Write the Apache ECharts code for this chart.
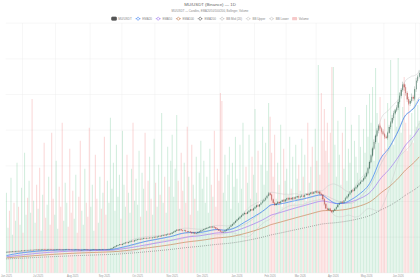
<!DOCTYPE html>
<html><head><meta charset="utf-8">
<script src="https://cdn.jsdelivr.net/npm/echarts@6/dist/echarts.min.js"></script>
<style>
html,body{margin:0;padding:0;background:#fff;}
#wrap{width:420px;height:280px;overflow:hidden;position:relative;}
#chart{width:1260px;height:840px;transform:scale(0.3333333);transform-origin:0 0;}
</style></head><body>
<div id="wrap"><div id="chart"></div></div>
<script>
// ---- data (weekday bars from 2025-06-02) ----
const firstDate = [2025, 5, 2];
const firstOpen = 57.2;
const closes = [
57.5,58.2,57.9,58.8,59.4,58.9,59.6,60.3,60.0,60.8,61.5,61.1,62.0,62.6,62.1,63.0,63.4,62.8,63.5,64.1,63.6,
64.2,63.7,64.5,65.0,64.3,63.8,64.6,65.2,64.7,64.0,63.5,64.1,64.8,65.3,64.6,64.0,63.6,64.2,64.9,65.4,64.8,64.3,63.9,
63.4,64.0,64.6,64.1,63.5,63.0,63.6,64.3,64.8,64.2,63.7,63.2,63.8,64.5,65.0,64.4,63.9,64.5,65.1,64.6,65.2,
65.0,64.6,65.3,66.0,67.2,69.0,71.5,73.8,76.0,77.5,79.0,78.2,80.5,82.6,84.0,83.1,85.5,87.8,89.0,88.1,90.2,92.0,
93.0,94.5,93.6,95.2,96.8,95.9,97.4,96.5,98.0,97.1,98.6,100.2,99.3,101.0,102.8,101.9,104.0,105.8,104.7,106.9,108.6,107.5,109.8,
112.0,114.5,117.2,120.1,118.6,121.0,119.2,117.5,118.8,116.0,114.2,115.5,113.0,110.8,112.5,109.6,111.0,113.4,115.8,117.9,
119.5,121.8,123.6,125.0,126.9,128.4,127.2,129.0,126.5,124.0,121.2,118.5,115.4,113.0,114.8,117.5,121.0,124.6,128.2,132.5,136.0,140.4,144.8,
149.0,152.6,156.8,160.5,164.2,167.0,165.3,169.8,173.5,177.0,175.2,179.6,184.0,188.5,186.2,191.0,195.8,200.4,204.2,209.5,215.0,221.8,
218.5,205.0,196.2,190.0,193.5,197.8,195.0,199.6,203.2,200.4,204.8,208.5,205.6,209.0,206.2,210.5,207.8,211.6,214.0,211.2,
213.5,216.0,213.2,217.8,220.4,218.0,221.5,224.2,222.0,225.8,227.5,224.6,226.9,221.0,218.3,206.5,192.0,180.5,176.0,179.2,173.5,170.0,
174.5,178.0,184.2,190.5,195.0,198.6,196.0,202.5,208.8,214.0,219.6,225.2,231.0,229.5,235.8,240.2,245.6,250.0,254.5,258.8,264.0,270.5,
279.0,292.5,310.0,328.4,348.0,366.5,384.0,398.5,412.0,404.5,396.0,388.2,381.0,378.5,392.0,408.4,421.0,433.5,447.2,455.0,462.8,
478.5,496.0,512.4,527.5,520.0,503.6,486.0,474.2,481.0,492.5,488.0,514.6,538.0,549.5,560.0
];
// wick lengths in units of 0.5% of price
const wickHi = [
2,1,3,1,2,2,1,3,2,1,2,1,3,2,1,2,3,1,2,1,2,
1,2,2,3,1,2,1,2,3,1,2,2,1,3,2,1,2,1,2,3,1,2,1,
2,1,3,2,1,2,2,1,3,1,2,1,2,3,1,2,1,2,2,1,3,
2,1,2,3,2,1,3,2,2,1,3,2,1,2,3,2,1,2,3,2,1,2,
3,2,1,2,2,3,1,2,3,2,1,2,3,1,2,2,3,1,2,1,3,2,1,
2,3,2,3,1,2,2,1,3,2,1,2,2,3,1,2,1,3,2,2,
2,1,2,3,1,2,3,2,1,2,2,1,3,2,1,3,2,2,1,3,2,2,3,
2,3,1,2,3,2,1,3,2,2,1,3,2,2,3,1,2,3,2,1,3,4,
3,2,3,1,2,3,2,1,2,3,2,1,3,2,2,1,3,2,1,2,
2,3,1,2,2,3,1,2,3,2,2,3,1,2,3,2,4,3,2,1,3,2,
2,3,1,2,3,2,2,1,3,2,2,3,1,2,3,2,1,2,3,2,2,3,
3,2,3,2,3,4,2,3,2,3,2,3,2,3,2,3,2,4,3,2,3,
3,4,2,3,2,3,2,3,2,4,2,3,3,2,3
];
const wickLo = [
1,2,2,1,3,1,2,2,1,3,1,2,2,1,3,2,1,3,1,2,1,
2,1,3,1,2,2,3,1,2,1,3,2,2,1,2,3,1,2,1,2,2,1,3,
1,2,2,1,3,2,1,2,1,3,2,2,1,2,1,3,2,1,2,2,1,
1,2,3,1,2,2,1,2,3,2,1,2,2,3,1,2,2,1,2,1,3,2,
2,1,2,3,1,2,2,3,1,2,3,1,2,2,1,3,2,2,1,3,1,2,2,
3,1,2,2,3,2,1,3,2,2,3,1,2,2,3,2,1,2,2,3,
1,3,2,2,1,2,2,3,2,3,2,3,2,3,2,1,2,2,3,1,2,2,1,
2,1,3,2,1,2,3,1,2,3,2,2,1,3,2,3,1,2,2,3,2,1,
2,4,3,3,2,1,3,2,2,1,2,3,2,1,2,3,2,1,2,3,
3,1,2,3,2,1,2,3,2,1,2,2,3,3,2,4,4,3,3,2,2,3,
3,2,2,3,1,2,3,2,1,2,3,2,2,3,1,2,3,2,2,1,3,2,
2,3,2,2,3,2,3,2,4,3,3,2,3,2,3,2,3,2,3,2,2,
3,2,3,2,4,3,3,2,3,2,3,2,3,2,2
];
const volumes = [
80,45,62,95,38,70,52,110,66,48,85,40,120,58,75,92,60,174,72,50,88,
64,105,42,78,130,55,68,96,48,140,74,58,112,44,86,66,150,52,90,70,46,124,60,
82,54,98,40,76,132,62,48,104,70,56,145,66,88,42,118,74,50,96,64,80,
136,58,92,70,155,84,110,62,128,76,98,54,142,88,66,118,80,60,104,150,72,94,
68,122,56,100,84,140,62,92,116,74,58,134,90,66,108,78,160,70,96,60,126,86,112,
138,76,104,158,92,64,120,82,110,70,146,96,58,128,88,74,116,62,100,132,
84,112,70,96,60,124,88,76,142,66,104,92,180,172,80,118,72,98,126,64,110,86,136,
94,70,128,84,150,62,106,90,138,74,116,98,164,80,122,68,108,146,88,130,102,170,
156,120,96,138,74,110,88,148,66,124,92,104,78,136,84,116,70,128,94,108,
82,134,96,118,72,150,90,106,126,80,144,112,208,98,180,132,164,122,150,110,140,206,
206,128,96,152,118,88,140,104,166,92,124,110,148,84,132,116,100,158,126,90,144,120,
168,136,179,150,186,112,205,160,130,176,142,118,154,124,170,138,213,150,128,164,146,
215,180,140,166,196,150,122,174,138,160,130,184,146,168,152
];
// indicator starting values read at the left edge
const emaSeed = { EMA20: 46.8, EMA50: 44.0, EMA100: 41.2, EMA200: 38.4 };
const monthNames = ['Jan','Feb','Mar','Apr','May','Jun','Jul','Aug','Sep','Oct','Nov','Dec'];

// ---- categories: weekday dates ----
const dates = [];
let t = Date.UTC(firstDate[0], firstDate[1], firstDate[2]);
while (dates.length < closes.length) {
  const dd = new Date(t);
  const wd = dd.getUTCDay();
  if (wd !== 0 && wd !== 6) dates.push(dd.toISOString().slice(0, 10));
  t += 86400000;
}

// ---- build series data ----
const ohlc = [], volData = [];
for (let i = 0; i < closes.length; i++) {
  const o = i === 0 ? firstOpen : closes[i - 1];
  const c = closes[i];
  const hi = Math.max(o, c) * (1 + wickHi[i] * 0.005);
  const lo = Math.min(o, c) * (1 - wickLo[i] * 0.005);
  ohlc.push([o, c, lo, hi]);
  volData.push({ value: volumes[i], itemStyle: { color: c >= o ? 'rgba(40,170,95,0.20)' : 'rgba(235,80,80,0.22)' } });
}
function ema(n, seed) {
  const a = 2 / (n + 1); const out = []; let e = seed;
  for (let i = 0; i < closes.length; i++) { e = a * closes[i] + (1 - a) * e; out.push(+e.toFixed(2)); }
  return out;
}
const bbMid = [], bbUp = [], bbLo = [];
for (let i = 0; i < closes.length; i++) {
  const w = closes.slice(Math.max(0, i - 19), i + 1);
  const m = w.reduce((s, v) => s + v, 0) / w.length;
  const sd = Math.sqrt(w.reduce((s, v) => s + (v - m) * (v - m), 0) / w.length);
  bbMid.push(+m.toFixed(2)); bbUp.push(+(m + 2 * sd).toFixed(2)); bbLo.push(+(m - 2 * sd).toFixed(2));
}

function isMonthStart(i) { return i === 0 || (dates[i] && dates[i - 1] && dates[i].slice(0, 7) !== dates[i - 1].slice(0, 7)); }
function isMidMonthFirst(i) {
  if (!dates[i]) return false;
  const d = +dates[i].slice(8);
  if (d < 16) return false;
  if (i === 0) return true;
  return dates[i - 1].slice(0, 7) !== dates[i].slice(0, 7) || +dates[i - 1].slice(8) < 16;
}

const lineBase = { type: 'line', showSymbol: false, symbol: 'emptyCircle', smooth: false, silent: true };
const chart = echarts.init(document.getElementById('chart'), null, { renderer: 'svg', width: 1260, height: 840 });
chart.setOption({
  animation: false,
  backgroundColor: '#ffffff',
  title: {
    text: 'MU/USDT (Binance) — 1D',
    subtext: 'MU/USDT — Candles, EMA20/50/100/200, Bollinger, Volume',
    left: 'center', top: 3, itemGap: 9,
    textStyle: { fontSize: 13, fontWeight: 'normal', color: '#666' },
    subtextStyle: { fontSize: 8.5, color: '#8a8a8a' }
  },
  legend: {
    top: 50, padding: 0, itemWidth: 15, itemHeight: 10, itemGap: 10,
    textStyle: { fontSize: 9, color: '#888' },
    data: [
      { name: 'MU/USDT', itemStyle: { color: '#555', borderColor: '#555' } },
      'EMA20', 'EMA50', 'EMA100', 'EMA200', 'BB Mid (20)', 'BB Upper', 'BB Lower',
      { name: 'Volume', itemStyle: { color: '#f6c9c9' } }
    ]
  },
  grid: { left: 0, right: 0, top: 69, bottom: 22, containLabel: false },
  xAxis: {
    type: 'category', data: dates, boundaryGap: true,
    axisLine: { show: false }, axisTick: { show: false },
    axisLabel: {
      interval: (i) => isMonthStart(i), fontSize: 8, color: '#999', margin: 8,
      formatter: (v) => monthNames[+v.slice(5, 7) - 1] + ' ' + v.slice(0, 4)
    },
    splitLine: { show: true, interval: (i) => isMidMonthFirst(i - 1), lineStyle: { color: '#ececec', width: 1.2 } }
  },
  yAxis: [
    { type: 'value', min: 0, max: 700, interval: 100, axisLine: { show: false }, axisTick: { show: false },
      axisLabel: { show: false }, splitLine: { lineStyle: { color: '#ececec', width: 1.2 } } },
    { type: 'value', min: 0, max: 250, show: false, splitLine: { show: false } }
  ],
  series: [
    { name: 'Volume', type: 'bar', xAxisIndex: 0, yAxisIndex: 1, data: volData, barWidth: '72%', z: 1, silent: true },
    Object.assign({}, lineBase, { name: 'BB Upper', data: bbUp, z: 2, itemStyle: { color: '#c9c9c9' }, lineStyle: { color: '#cdcdcd', width: 1.5 } }),
    Object.assign({}, lineBase, { name: 'BB Lower', data: bbLo, z: 2, itemStyle: { color: '#c9c9c9' }, lineStyle: { color: '#cdcdcd', width: 1.5 } }),
    Object.assign({}, lineBase, { name: 'BB Mid (20)', data: bbMid, z: 2, itemStyle: { color: '#bdbdbd' }, lineStyle: { color: '#c4c4c4', width: 1.5 } }),
    Object.assign({}, lineBase, { name: 'EMA200', data: ema(200, emaSeed.EMA200), z: 3, itemStyle: { color: '#555' }, lineStyle: { color: '#555', width: 2, type: [2, 4] } }),
    Object.assign({}, lineBase, { name: 'EMA100', data: ema(100, emaSeed.EMA100), z: 3, itemStyle: { color: '#c98a60' }, lineStyle: { color: '#c98a60', width: 2.2 } }),
    Object.assign({}, lineBase, { name: 'EMA50', data: ema(50, emaSeed.EMA50), z: 3, itemStyle: { color: '#a47ef0' }, lineStyle: { color: '#a47ef0', width: 2.2 } }),
    Object.assign({}, lineBase, { name: 'EMA20', data: ema(20, emaSeed.EMA20), z: 3, itemStyle: { color: '#4a8af4' }, lineStyle: { color: '#4a8af4', width: 2.4 } }),
    { name: 'MU/USDT', type: 'candlestick', data: ohlc, barWidth: '42%', z: 5, silent: true,
      itemStyle: { color: '#3b6b57', color0: '#b54640', borderColor: '#3b6b57', borderColor0: '#b54640', borderWidth: 0.8 } }
  ]
});
</script>
</body></html>
